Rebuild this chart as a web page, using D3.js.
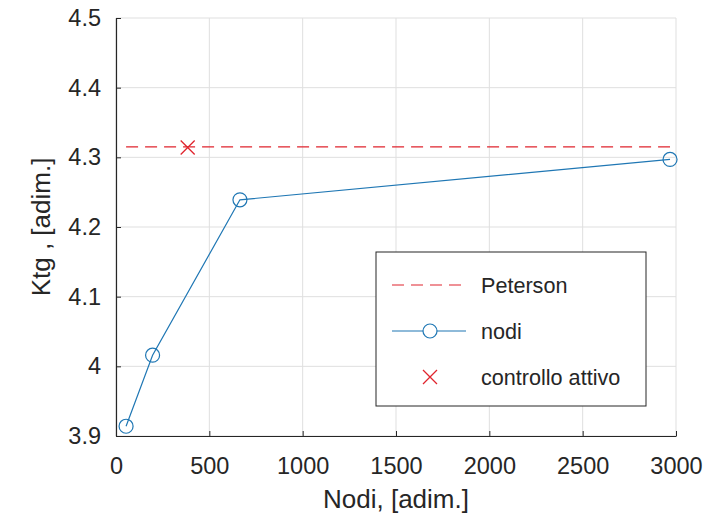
<!DOCTYPE html>
<html>
<head>
<meta charset="utf-8">
<script src="https://cdn.jsdelivr.net/npm/d3@7"></script>
<style>
  body { margin: 0; background: #fff; }
  text { font-family: "Liberation Sans", Arial, sans-serif; fill: #262626; }
</style>
</head>
<body>
<svg id="chart" width="706" height="515"></svg>
<script>
// dati
var nodi = [54, 196, 664, 2968];
var ktg = [3.914, 4.016, 4.239, 4.297];
var petersonX = [54, 2968];
var petersonY = 4.315;
var controlloX = [384];
var controlloY = [4.314];
var xTicks = [0, 500, 1000, 1500, 2000, 2500, 3000];
var yTicks = [3.9, 4, 4.1, 4.2, 4.3, 4.4, 4.5];
var legendLabels = ['Peterson', 'nodi', 'controllo attivo'];

var blue = '#1f77b4', red = '#e0252e', axisCol = '#262626', gridCol = '#dfdfdf';

var svg = d3.select('#chart');
var m = {left: 116, top: 18, right: 30, bottom: 79};
var W = 706 - m.left - m.right, H = 515 - m.top - m.bottom;

var x = d3.scaleLinear().domain([0, 3000]).range([0, W]);
var y = d3.scaleLinear().domain([3.9, 4.5]).range([H, 0]);

var g = svg.append('g').attr('transform', 'translate(' + m.left + ',' + m.top + ')');

// griglia
g.append('g').selectAll('line').data(xTicks).enter().append('line')
  .attr('x1', function(d) { return x(d); }).attr('x2', function(d) { return x(d); })
  .attr('y1', 0).attr('y2', H)
  .attr('stroke', gridCol).attr('stroke-width', 1);
g.append('g').selectAll('line').data(yTicks).enter().append('line')
  .attr('y1', function(d) { return y(d); }).attr('y2', function(d) { return y(d); })
  .attr('x1', 0).attr('x2', W)
  .attr('stroke', gridCol).attr('stroke-width', 1);

// assi
var xAxis = g.append('g').attr('transform', 'translate(0,' + H + ')')
  .call(d3.axisBottom(x).tickValues(xTicks).tickSizeInner(-5).tickSizeOuter(0).tickPadding(21)
    .tickFormat(d3.format('d')));
var yAxis = g.append('g')
  .call(d3.axisLeft(y).tickValues(yTicks).tickSizeInner(-5).tickSizeOuter(0).tickPadding(15)
    .tickFormat(function(d) { return d3.format('')(+d.toFixed(1)); }));
[xAxis, yAxis].forEach(function(a) {
  a.select('.domain').attr('stroke', axisCol).attr('stroke-width', 1.2);
  a.selectAll('.tick line').attr('stroke', axisCol);
  a.selectAll('.tick text').attr('font-size', 23.5).attr('fill', axisCol)
    .style('font-family', '"Liberation Sans", Arial, sans-serif');
});

// etichette assi
svg.append('text').attr('x', m.left + W / 2).attr('y', 508)
  .attr('text-anchor', 'middle').attr('font-size', 26).text('Nodi, [adim.]');
svg.append('text').attr('transform', 'translate(50,' + (m.top + H / 2) + ') rotate(-90)')
  .attr('text-anchor', 'middle').attr('font-size', 26).text('Ktg , [adim.]');

// Peterson
g.append('line')
  .attr('x1', x(petersonX[0])).attr('x2', x(petersonX[1]))
  .attr('y1', y(petersonY)).attr('y2', y(petersonY))
  .attr('stroke', red).attr('stroke-width', 1.2).attr('stroke-dasharray', '12,7');

// nodi
var pts = nodi.map(function(v, i) { return {x: v, y: ktg[i]}; });
g.append('path').datum(pts)
  .attr('d', d3.line().x(function(d) { return x(d.x); }).y(function(d) { return y(d.y); }))
  .attr('fill', 'none').attr('stroke', blue).attr('stroke-width', 1.2);
g.selectAll('circle.nodo').data(pts).enter().append('circle').attr('class', 'nodo')
  .attr('cx', function(d) { return x(d.x); }).attr('cy', function(d) { return y(d.y); })
  .attr('r', 7).attr('fill', 'none').attr('stroke', blue).attr('stroke-width', 1.2);

// controllo attivo
function cross(sel, cx, cy, s) {
  sel.append('path')
    .attr('d', 'M' + (cx - s) + ',' + (cy - s) + 'L' + (cx + s) + ',' + (cy + s) +
      'M' + (cx - s) + ',' + (cy + s) + 'L' + (cx + s) + ',' + (cy - s))
    .attr('stroke', red).attr('stroke-width', 1.3).attr('fill', 'none');
}
controlloX.forEach(function(v, i) { cross(g, x(v), y(controlloY[i]), 7); });

// legenda
var lg = svg.append('g').attr('transform', 'translate(376,252)');
lg.append('rect').attr('width', 270).attr('height', 154)
  .attr('fill', '#fff').attr('stroke', '#262626').attr('stroke-width', 1);
var rowY = [33, 79, 125];
lg.append('line').attr('x1', 16).attr('x2', 90).attr('y1', rowY[0]).attr('y2', rowY[0])
  .attr('stroke', red).attr('stroke-width', 1.2).attr('stroke-dasharray', '12,7');
lg.append('line').attr('x1', 16).attr('x2', 90).attr('y1', rowY[1]).attr('y2', rowY[1])
  .attr('stroke', blue).attr('stroke-width', 1.2);
lg.append('circle').attr('cx', 54).attr('cy', rowY[1]).attr('r', 7)
  .attr('fill', '#fff').attr('stroke', blue).attr('stroke-width', 1.2);
cross(lg, 54, rowY[2], 7);
lg.selectAll('text.lab').data(legendLabels).enter().append('text').attr('class', 'lab')
  .attr('x', 105).attr('y', function(d, i) { return rowY[i] + 8; })
  .attr('font-size', 21.6).text(function(d) { return d; });
</script>
</body>
</html>
